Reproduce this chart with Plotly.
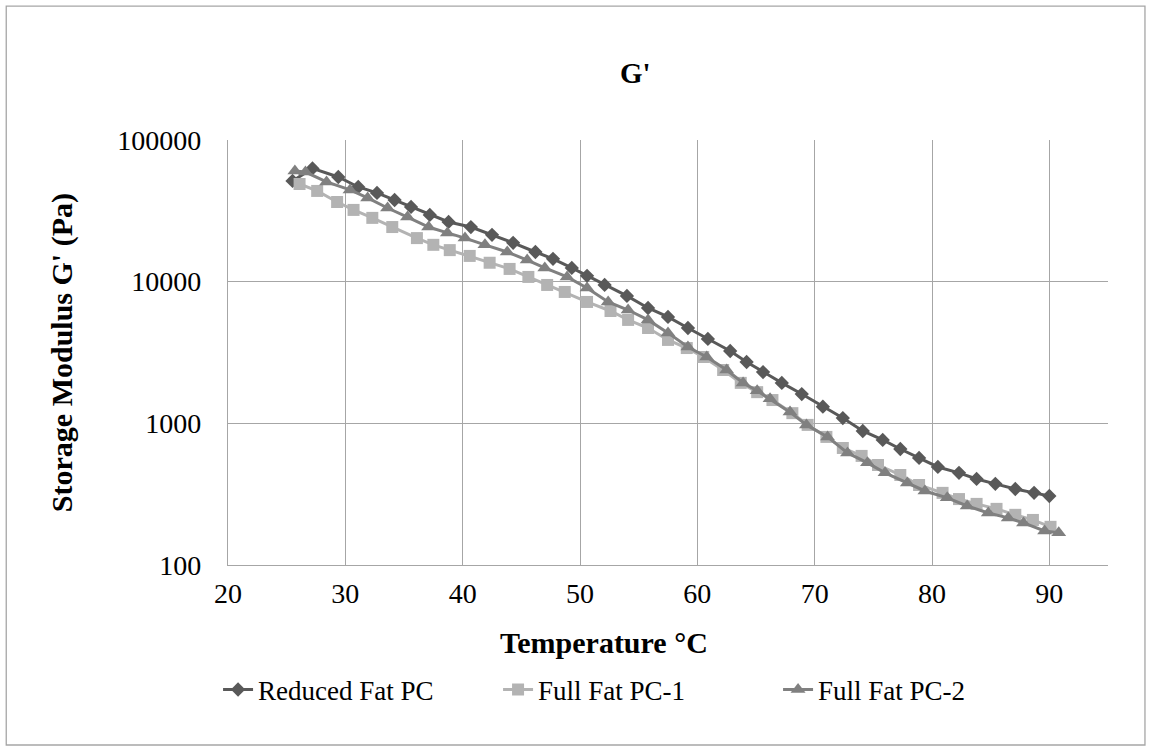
import plotly.graph_objects as go

# ---- data ----
t_reduced = [25.5, 27.2, 29.4, 31.1, 32.7, 34.2, 35.6, 37.2, 38.8, 40.7, 42.5, 44.3, 46.2, 47.7,
             49.3, 50.6, 52.1, 54.0, 55.8, 57.5, 59.2, 60.9, 62.8, 64.2, 65.6, 67.2, 68.9, 70.7,
             72.4, 74.1, 75.8, 77.3, 78.9, 80.5, 82.3, 83.8, 85.4, 87.1, 88.7, 90.0]
g_reduced = [51400, 63000, 54800, 46600, 42300, 37700, 33700, 29600, 26400, 24300, 21400, 18800,
             16200, 14500, 12500, 11000, 9480, 7930, 6520, 5640, 4710, 3940, 3240, 2710, 2300,
             1930, 1610, 1310, 1090, 883, 764, 659, 570, 492, 447, 405, 374, 344, 323, 307]

t_full1 = [26.1, 27.6, 29.3, 30.7, 32.3, 34.0, 36.1, 37.5, 38.9, 40.6, 42.3, 44.0, 45.6, 47.2,
           48.7, 50.6, 52.6, 54.1, 55.8, 57.5, 59.1, 60.5, 62.2, 63.7, 65.1, 66.4, 68.1, 69.4,
           71.0, 72.4, 74.0, 75.4, 77.3, 78.9, 80.9, 82.3, 83.8, 85.5, 87.1, 88.6, 90.1]
g_full1 = [48900, 43700, 36500, 32100, 28200, 24300, 20300, 18200, 16700, 15200, 13600, 12300,
           10800, 9480, 8460, 7190, 6210, 5370, 4710, 3880, 3400, 2940, 2380, 1930, 1660, 1460,
           1180, 975, 802, 670, 589, 508, 432, 367, 323, 292, 270, 249, 226, 208, 186]

t_full2 = [25.7, 26.6, 28.4, 30.4, 31.9, 33.6, 35.3, 37.1, 38.7, 40.2, 41.9, 43.8, 45.5, 47.0,
           48.9, 50.6, 52.4, 54.1, 55.8, 57.5, 59.2, 60.8, 62.5, 63.9, 65.1, 66.2, 67.9, 69.3,
           71.1, 72.8, 74.5, 76.0, 77.9, 79.4, 81.3, 83.0, 84.8, 86.5, 87.8, 89.6, 90.8]
g_full2 = [60400, 59400, 50600, 44400, 39000, 33100, 28600, 24300, 22100, 20300, 18200, 16200,
           14200, 12500, 10800, 9030, 7190, 6310, 5370, 4350, 3460, 2940, 2380, 1930, 1700, 1490,
           1200, 975, 802, 618, 526, 447, 379, 333, 298, 261, 233, 215, 198, 174, 169]

x_ticks = [20, 30, 40, 50, 60, 70, 80, 90]
y_ticks = [100, 1000, 10000, 100000]
y_tick_labels = ["100", "1000", "10000", "100000"]

FONT = '"Liberation Serif", "Times New Roman", Times, serif'
FS = 27      # legend
FS_TICK = 28
FS_BOLD = 30

fig = go.Figure()
fig.add_trace(go.Scatter(x=t_reduced, y=g_reduced, name="Reduced Fat PC", mode="lines+markers",
                         line=dict(color="#595959", width=3),
                         marker=dict(symbol="diamond", size=11, color="#595959")))
fig.add_trace(go.Scatter(x=t_full1, y=g_full1, name="Full Fat PC-1", mode="lines+markers",
                         line=dict(color="#b3b3b3", width=3),
                         marker=dict(symbol="square", size=12, color="#b3b3b3")))
fig.add_trace(go.Scatter(x=t_full2, y=g_full2, name="Full Fat PC-2", mode="lines+markers",
                         line=dict(color="#808080", width=3),
                         marker=dict(symbol="triangle-up", size=13, color="#808080")))

axis_common = dict(showgrid=True, gridcolor="#a6a6a6", gridwidth=1.2, zeroline=False,
                   showline=True, linecolor="#a6a6a6", linewidth=1.2,
                   ticks="", automargin=False,
                   tickfont=dict(family=FONT, size=FS_TICK, color="black"))

fig.update_xaxes(range=[20, 95], tickvals=x_ticks, ticklabelstandoff=3, **axis_common)
fig.update_yaxes(type="log", range=[2, 5], tickvals=y_ticks, ticktext=y_tick_labels,
                 ticklabelstandoff=20, **axis_common)

fig.update_layout(
    width=1152, height=751,
    margin=dict(l=228, r=44, t=140, b=186),
    paper_bgcolor="white", plot_bgcolor="white",
    font=dict(family=FONT, color="black", size=FS),
    showlegend=True,
    legend=dict(orientation="h", x=-0.0113, y=-0.294, xanchor="left", yanchor="middle",
                font=dict(family=FONT, size=FS), entrywidth=235, entrywidthmode="pixels",
                tracegroupgap=0, bgcolor="rgba(0,0,0,0)"),
    shapes=[dict(type="rect", xref="paper", yref="paper", x0=-0.252, x1=1.042,
                 y0=-0.4235, y1=1.315, line=dict(color="#a6a6a6", width=1.3),
                 fillcolor="rgba(0,0,0,0)", layer="below")],
    annotations=[
        dict(text="<b>G'</b>", xref="paper", yref="paper", x=0.4636, y=1.158,
             xanchor="center", yanchor="middle",
             showarrow=False, font=dict(family=FONT, size=29)),
        dict(text="<b>Temperature °C</b>", xref="paper", yref="paper", x=0.427, y=-0.1835,
             xanchor="center", yanchor="middle",
             showarrow=False, font=dict(family=FONT, size=FS_BOLD)),
        dict(text="<b>Storage Modulus G' (Pa)</b>", xref="paper", yref="paper", x=-0.189, y=0.5,
             xanchor="center", yanchor="middle",
             textangle=-90, showarrow=False, font=dict(family=FONT, size=FS_BOLD)),
    ],
)

fig.write_html("out.html")
